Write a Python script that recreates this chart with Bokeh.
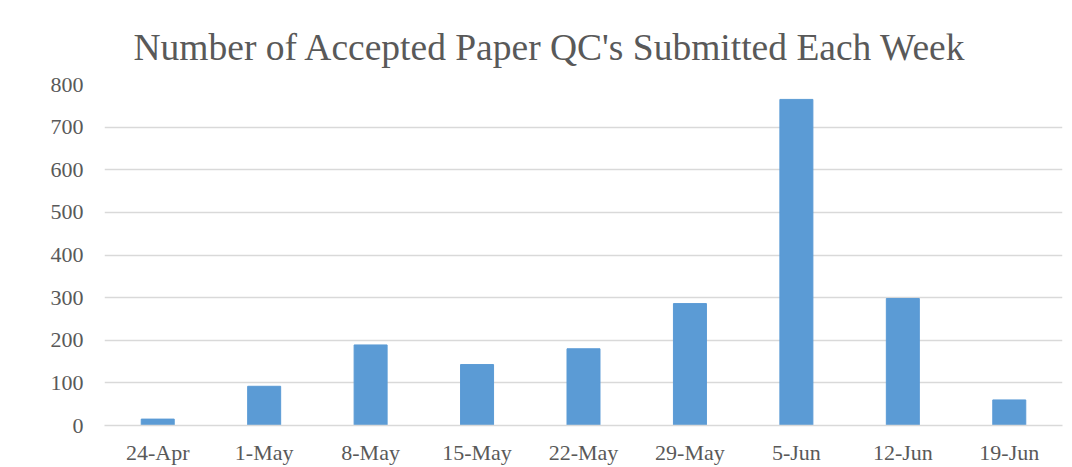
from bokeh.plotting import figure
from bokeh.models import FactorRange, Range1d, Title
from bokeh.embed import file_html
from bokeh.resources import INLINE

weeks = ["24-Apr", "1-May", "8-May", "15-May", "22-May", "29-May", "5-Jun", "12-Jun", "19-Jun"]
counts = [15, 92, 189, 143, 180, 286, 765, 298, 60]
y_ticks = [0, 100, 200, 300, 400, 500, 600, 700, 800]
title_text = "Number of Accepted Paper QC's Submitted Each Week"

FONT = "Liberation Serif"
GREY = "#595959"

p = figure(width=1072, height=467, x_range=FactorRange(*weeks, range_padding=0),
           y_range=Range1d(0, 800), output_backend="svg", toolbar_location=None,
           min_border_left=104, min_border_right=10, min_border_bottom=42, min_border_top=84)

t = Title(text=title_text, align="left", offset=29, text_font=FONT, text_font_size="37.5px",
          text_font_style="normal", text_color=GREY, standoff=34)
p.add_layout(t, "above")

p.vbar(x=weeks, top=counts, width=0.31, color="#5B9BD5")

p.outline_line_color = None
p.border_fill_color = "white"
p.xgrid.grid_line_color = None
p.ygrid.grid_line_color = "#D9D9D9"
p.ygrid.grid_line_width = 1.5
p.yaxis.ticker = y_ticks

for ax in (p.xaxis, p.yaxis):
    ax.major_label_text_font = FONT
    ax.major_label_text_font_size = "22px"
    ax.major_label_text_color = GREY
    ax.major_tick_line_color = None
    ax.minor_tick_line_color = None
    ax.major_tick_out = 0
    ax.major_tick_in = 0

p.yaxis.axis_line_color = None
p.yaxis.major_label_standoff = 21
p.xaxis.axis_line_color = "#D9D9D9"
p.xaxis.axis_line_width = 1.5
p.xaxis.major_label_standoff = 14

open("out.html", "w").write(file_html(p, INLINE))
